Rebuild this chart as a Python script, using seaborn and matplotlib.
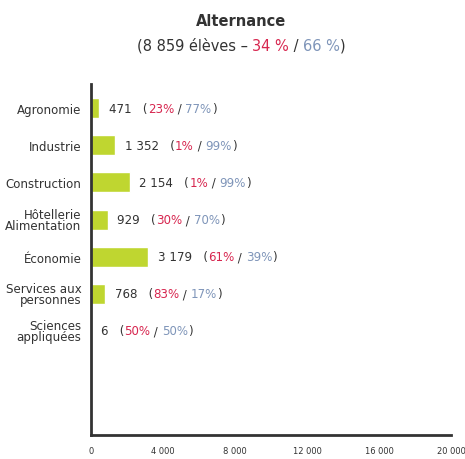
import matplotlib
matplotlib.use("Agg")
import matplotlib.pyplot as plt
from matplotlib import font_manager as fm
import seaborn as sns
import pandas as pd
from matplotlib.offsetbox import TextArea, HPacker, AnnotationBbox

categories = ["Agronomie", "Industrie", "Construction", "Hôtellerie\nAlimentation",
              "Économie", "Services aux\npersonnes", "Sciences\nappliquées"]
values = [471, 1352, 2154, 929, 3179, 768, 6]
value_labels = ["471", "1 352", "2 154", "929", "3 179", "768", "6"]
pct_red = [23, 1, 1, 30, 61, 83, 50]
pct_blue = [77, 99, 99, 70, 39, 17, 50]
xticks = [0, 4000, 8000, 12000, 16000, 20000]
xtick_labels = ["0", "4 000", "8 000", "12 000", "16 000", "20 000"]

sns.set_style("white")

names = {f.name for f in fm.fontManager.ttflist}
cond_dejavu = any(f.name == "DejaVu Sans" and str(f.stretch) in ("condensed", "semi-condensed", "75", "87")
                  for f in fm.fontManager.ttflist)
STRETCH = "normal"
if "Liberation Sans Narrow" in names:
    FONT = ["Liberation Sans Narrow", "DejaVu Sans"]
    SCALE = 1.0
elif cond_dejavu:
    FONT = ["DejaVu Sans", "Liberation Sans"]
    STRETCH = "condensed"
    SCALE = 0.9
else:
    FONT = ["Liberation Sans", "DejaVu Sans"]
    SCALE = 0.88
plt.rcParams["font.family"] = FONT
plt.rcParams["font.stretch"] = STRETCH

DARK = "#333333"
RED = "#d7264f"
BLUE = "#7f95b9"
GREEN = "#bfd630"

def tp(color, size, weight="normal"):
    return dict(color=color, fontsize=size * SCALE, family=FONT, fontstretch=STRETCH, fontweight=weight)

fig = plt.figure(figsize=(4.65, 4.6), dpi=100)
ax = fig.add_axes([91/465, 1-436/460, (451-91)/465, (436-85)/460])

df = pd.DataFrame({"cat": categories, "val": values})
sns.barplot(data=df, x="val", y="cat", color=GREEN, saturation=1, width=0.54, ax=ax, orient="h")

ax.set_xlim(0, 20000)
ax.set_ylim(8.8, -0.65)
ax.set_xticks(xticks)
ax.set_xticklabels(xtick_labels)
for lab in ax.get_xticklabels():
    lab.set_fontsize(7.4 * SCALE)
    lab.set_color(DARK)
    lab.set_fontstretch(STRETCH)
ax.tick_params(axis="x", direction="in", length=2, width=1.2, color=DARK, pad=8)
ax.tick_params(axis="y", length=0, pad=7)
for lab in ax.get_yticklabels():
    lab.set_fontsize(10.5 * SCALE)
    lab.set_color(DARK)
    lab.set_linespacing(0.75)
    lab.set_fontstretch(STRETCH)
ax.set_xlabel("")
ax.set_ylabel("")
for s in ["top", "right"]:
    ax.spines[s].set_visible(False)
for s in ["left", "bottom"]:
    ax.spines[s].set_color(DARK)
    ax.spines[s].set_linewidth(2)

fs = 10.5
for i, (v, vl, r, b) in enumerate(zip(values, value_labels, pct_red, pct_blue)):
    parts = [
        TextArea(vl + "   (", textprops=tp(DARK, fs)),
        TextArea(f"{r}%", textprops=tp(RED, fs)),
        TextArea(" / ", textprops=tp(DARK, fs)),
        TextArea(f"{b}%", textprops=tp(BLUE, fs)),
        TextArea(")", textprops=tp(DARK, fs)),
    ]
    pack = HPacker(children=parts, pad=0, sep=0, align="baseline")
    ab = AnnotationBbox(pack, (v, i), xybox=(7, 0), xycoords="data",
                        boxcoords="offset points", box_alignment=(0, 0.5),
                        frameon=False, pad=0)
    ax.add_artist(ab)

cx = 241 / 465
fig.text(cx, 1 - 21/460, "Alternance", ha="center", va="center", **tp(DARK, 13, "bold"))
sfs = 13
sub = [
    TextArea("(8 859 élèves – ", textprops=tp(DARK, sfs)),
    TextArea("34 %", textprops=tp(RED, sfs)),
    TextArea(" / ", textprops=tp(DARK, sfs)),
    TextArea("66 %", textprops=tp(BLUE, sfs)),
    TextArea(")", textprops=tp(DARK, sfs)),
]
pack = HPacker(children=sub, pad=0, sep=0, align="baseline")
ab = AnnotationBbox(pack, (cx, 1 - 46/460), xycoords="figure fraction",
                    box_alignment=(0.5, 0.5), frameon=False, pad=0)
fig.add_artist(ab)

fig.savefig("out.png", dpi=100)
